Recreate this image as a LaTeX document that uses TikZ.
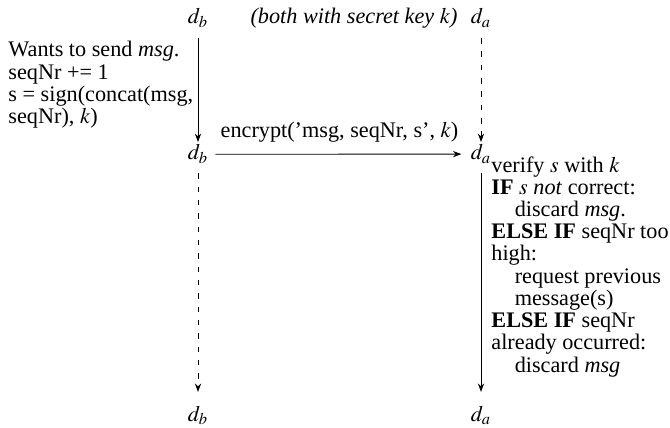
\documentclass[tikz,border=0pt]{standalone}
\usepackage{mathptmx}
\usepackage[no-math]{fontspec}
\setmainfont{Liberation Serif}
\usetikzlibrary{arrows.meta}
\begin{document}
\begin{tikzpicture}[x=0.45pt,y=-0.45pt,
  font=\fontsize{10}{10}\selectfont,
  dnode/.style={inner sep=0pt, anchor=base},
  arr/.style={-{Stealth[length=3.8pt,width=2.8pt]}, line width=0.4pt},
  dsh/.style={dash pattern=on 2.5pt off 3.5pt},
  txt/.style={align=left, inner sep=0pt, anchor=north west}]
\useasboundingbox (0,0) rectangle (670,427);
% actors
\node[dnode] (b1) at (198,24) {$d_b$};
\node[dnode] (a1) at (481,24) {$d_a$};
\node[dnode] (b2) at (198,160) {$d_b$};
\node[dnode] (a2) at (481,160) {$d_a$};
\node[dnode] (b3) at (198,421) {$d_b$};
\node[dnode] (a3) at (481,421) {$d_a$};
\node[dnode] (key) at (354,24) {\textit{(both with secret key $k$)}};
% lifelines
\draw[arr, shorten <=4.5pt, shorten >=1pt] (b1) -- (b2);
\draw[arr, dsh, shorten <=4.5pt, shorten >=1pt] (a1) -- (a2);
\draw[arr, shorten <=3pt, shorten >=4pt] (b2) -- node[above=2pt, name=enc] {encrypt('msg, seqNr, s', $k$)} (a2);
\draw[arr, dsh, shorten <=4pt, shorten >=6pt] (b2) -- (b3);
\draw[arr, shorten <=4pt, shorten >=6pt] (a2) -- (a3);
% texts
\node[txt] (left) at (8,41) {Wants to send \textit{msg}.\\ seqNr += 1\\ s = sign(concat(msg,\\ seqNr), $k$)};
\node[txt] (right) at (491,156) {verify $s$ with $k$\\
\textbf{IF} $s$ \textit{not} correct:\\
\hspace*{10.5pt}discard \textit{msg}.\\
\textbf{ELSE IF} seqNr too\\
high:\\
\hspace*{10.5pt}request previous\\
\hspace*{10.5pt}message(s)\\
\textbf{ELSE IF} seqNr\\
already occurred:\\
\hspace*{10.5pt}discard \textit{msg}};
\end{tikzpicture}
\end{document}
